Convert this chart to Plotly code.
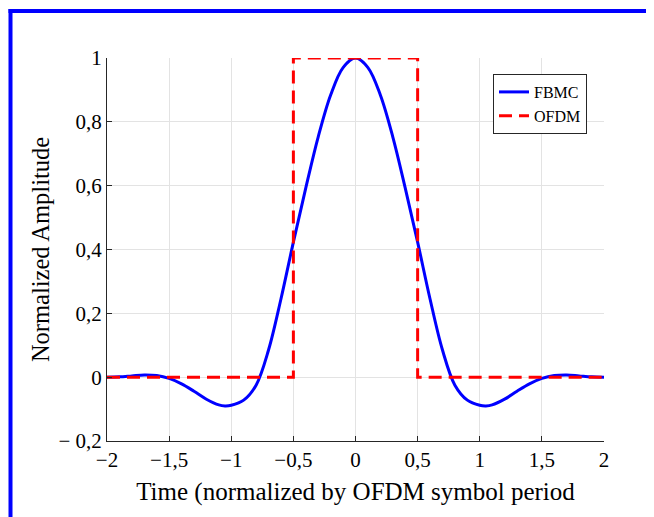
import plotly.graph_objects as go

# FBMC prototype pulse, symmetric around 0
t_half = [0.0, 0.1, 0.2, 0.3, 0.4, 0.5, 0.6, 0.7, 0.8, 0.9, 1.0, 1.05, 1.1, 1.2, 1.3, 1.4, 1.5, 1.6, 1.7, 1.8, 1.9, 2.0]
fbmc_half = [1.0, 0.970, 0.884, 0.753, 0.593, 0.423, 0.245, 0.085, -0.025, -0.072, -0.088, -0.090, -0.087, -0.069, -0.044, -0.021, -0.004, 0.005, 0.007, 0.004, 0.001, 0.0]

fbmc_t = [-v for v in t_half[::-1]][:-1] + t_half
fbmc_y = fbmc_half[::-1][:-1] + fbmc_half

ofdm_t = [-2, -0.5, -0.5, 0.5, 0.5, 2]
ofdm_y = [0, 0, 1, 1, 0, 0]

xtick_vals = [-2, -1.5, -1, -0.5, 0, 0.5, 1, 1.5, 2]
xtick_text = ["\u22122", "\u22121,5", "\u22121", "\u22120,5", "0", "0,5", "1", "1,5", "2"]
ytick_vals = [-0.2, 0, 0.2, 0.4, 0.6, 0.8, 1]
ytick_text = ["\u2212 0,2", "0", "0,2", "0,4", "0,6", "0,8", "1"]

FONT = "Liberation Serif, Times New Roman, serif"

# page body has an 8px margin, so the figure is sized to fit the window
W, H = 646, 509
L, R, T, B = 99, 50, 50, 76
PW, PH = W - L - R, H - T - B


def px(x):
    return (x - L) / PW


def py(y):
    return (H - B - y) / PH


fig = go.Figure()
fig.add_trace(go.Scatter(x=fbmc_t, y=fbmc_y, mode="lines", name="FBMC",
                         line=dict(color="#0000ff", width=3, shape="spline", smoothing=1.0)))
fig.add_trace(go.Scatter(x=ofdm_t, y=ofdm_y, mode="lines", name="OFDM",
                         line=dict(color="#ff0000", width=3, dash="13px,7px")))

axis_common = dict(showgrid=True, gridcolor="#e3e3e3", gridwidth=1,
                   showline=True, linecolor="#262626", linewidth=1,
                   ticks="inside", ticklen=5, tickcolor="#262626",
                   tickfont=dict(family=FONT, size=21, color="black"),
                   zeroline=False, mirror=False)

fig.update_layout(
    width=W, height=H,
    margin=dict(l=L, r=R, t=T, b=B),
    paper_bgcolor="white", plot_bgcolor="white",
    font=dict(family=FONT, color="black"),
    xaxis=dict(range=[-2, 2], tickvals=xtick_vals, ticktext=xtick_text,
               title=dict(text="Time (normalized by OFDM symbol period", font=dict(family=FONT, size=25), standoff=11),
               **axis_common),
    yaxis=dict(range=[-0.2, 1], tickvals=ytick_vals, ticktext=ytick_text,
               title=dict(text="Normalized Amplitude", font=dict(family=FONT, size=24.5), standoff=1),
               **axis_common),
    legend=dict(x=px(579), y=py(66), xanchor="right", yanchor="top",
                bgcolor="white", bordercolor="#262626", borderwidth=1,
                font=dict(family=FONT, size=16, color="black"),
                tracegroupgap=0, itemwidth=30),
    showlegend=True,
)

# blue frame on left and top
fig.add_shape(type="line", xref="paper", yref="paper",
              x0=px(2.5), x1=px(2.5), y0=py(1), y1=py(H + 5),
              line=dict(color="#0000ff", width=4))
fig.add_shape(type="line", xref="paper", yref="paper",
              x0=px(0.5), x1=px(W + 5), y0=py(3), y1=py(3),
              line=dict(color="#0000ff", width=4))

fig.write_html("out.html")
